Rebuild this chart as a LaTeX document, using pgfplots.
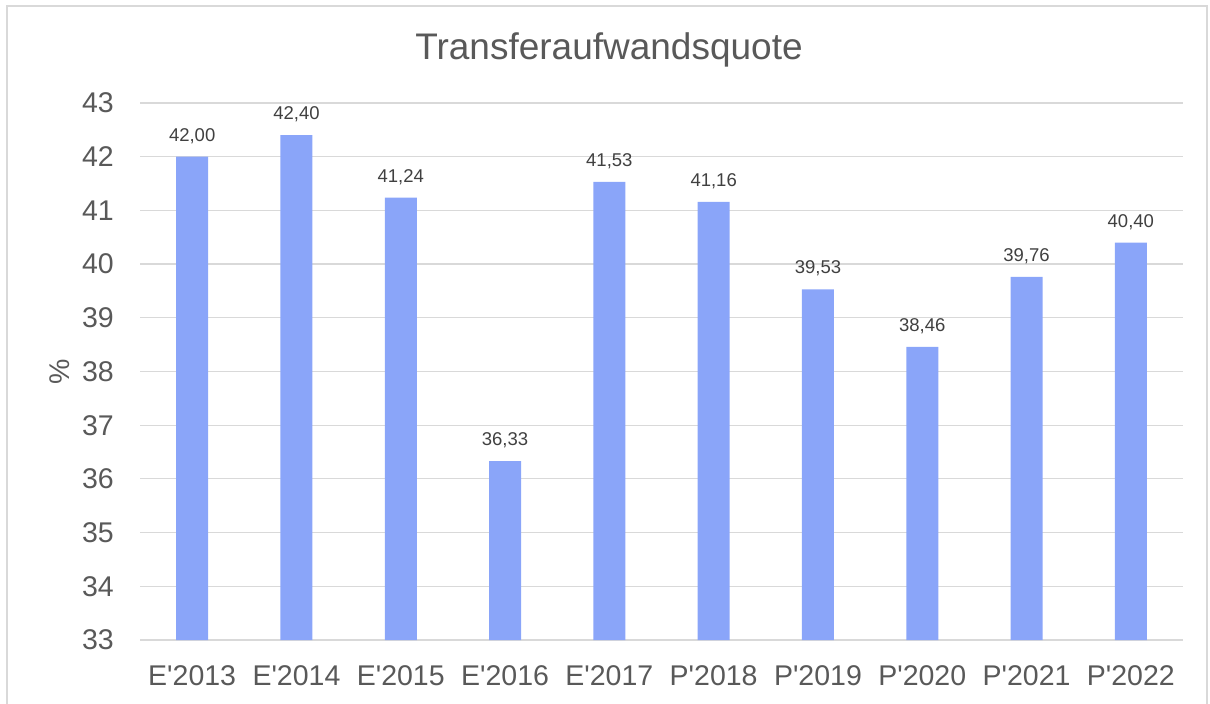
\documentclass[border=0pt]{standalone}
\usepackage{pgfplots}
\pgfplotsset{compat=1.18}
\usepackage{fontspec}
\setmainfont{Liberation Sans}
\definecolor{barc}{HTML}{8AA5F9}
\definecolor{gridc}{HTML}{D9D9D9}
\definecolor{txt}{HTML}{595959}
\definecolor{lbl}{HTML}{404040}
\newcommand{\q}{\textquotesingle}
\begin{document}
\begin{tikzpicture}
\path[use as bounding box] (0,0) rectangle (1210bp,704bp);
\draw[gridc, line width=1.5bp] (7bp,-2bp) -- (7bp,698bp) -- (1207bp,698bp) -- (1207bp,-2bp);
\node[anchor=base, font=\fontsize{37bp}{42bp}\selectfont, text=txt, inner sep=0] at (609bp,644.7bp) {Transferaufwandsquote};
\node[rotate=90, font=\fontsize{28.5bp}{32bp}\selectfont, text=txt, inner sep=0] at (60bp,332bp) {\%};
\begin{axis}[
  at={(140bp,64bp)}, anchor=south west,
  scale only axis, width=1043bp, height=537bp,
  xmin=-0.5, xmax=9.5, ymin=33, ymax=43,
  ytick={33,34,...,43},
  xtick={0,...,9},
  xticklabels={E\q2013,E\q2014,E\q2015,E\q2016,E\q2017,P\q2018,P\q2019,P\q2020,P\q2021,P\q2022},
  axis x line*=bottom,
  axis y line*=left,
  x axis line style={draw=gridc, line width=1.5bp},
  y axis line style={draw=none},
  major tick length=0pt,
  ymajorgrids, grid style={gridc, line width=1.2bp},
  tick label style={font=\fontsize{28.5bp}{32bp}\selectfont, text=txt, inner sep=0pt},
  /pgf/number format/assume math mode=true,
  yticklabel style={anchor=east, xshift=-26bp},
  xticklabel style={anchor=base, yshift=-45bp},
  clip=false,
  nodes near coords,
  nodes near coords style={font=\fontsize{18.5bp}{21bp}\selectfont, text=lbl, anchor=base, inner sep=0pt, yshift=15.5bp},
  point meta=explicit symbolic,
]
\addplot[ybar, bar width=32bp, fill=barc, draw=none, bar shift=0pt] coordinates {
(0,42.00) [42,00] (1,42.40) [42,40] (2,41.24) [41,24] (3,36.33) [36,33] (4,41.53) [41,53] (5,41.16) [41,16] (6,39.53) [39,53] (7,38.46) [38,46] (8,39.76) [39,76] (9,40.40) [40,40]};
\end{axis}
\end{tikzpicture}
\end{document}
